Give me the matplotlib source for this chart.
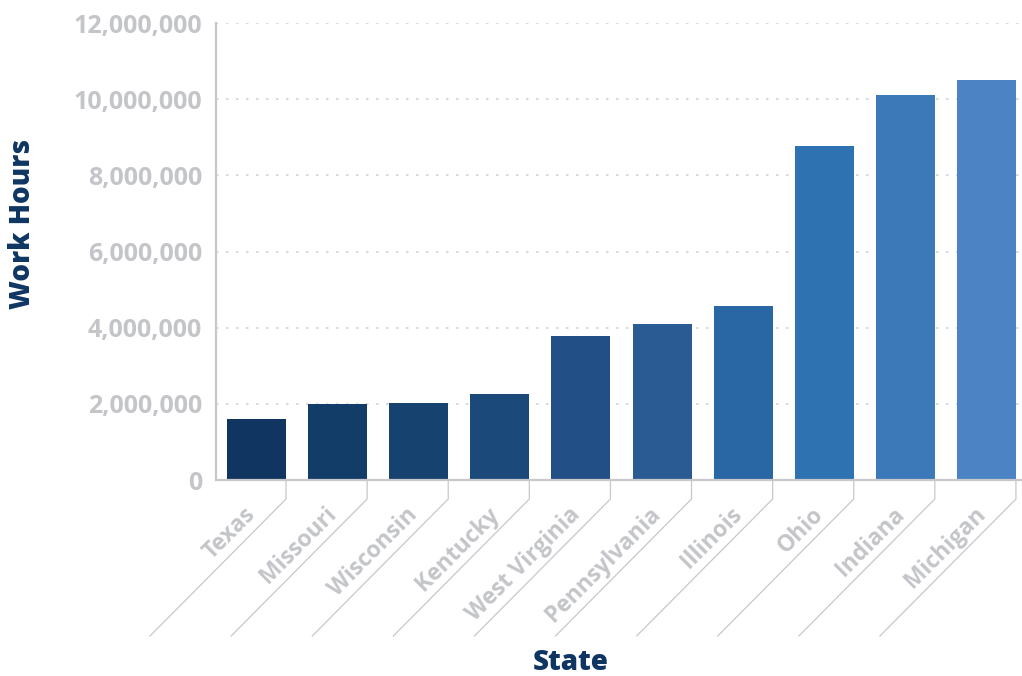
import matplotlib
matplotlib.use("Agg")
import matplotlib.pyplot as plt
import matplotlib.transforms as mtransforms
from matplotlib.ticker import FuncFormatter, MultipleLocator

states = ["Texas", "Missouri", "Wisconsin", "Kentucky", "West Virginia",
          "Pennsylvania", "Illinois", "Ohio", "Indiana", "Michigan"]
work_hours = [1600000, 2000000, 2020000, 2260000, 3780000,
              4090000, 4570000, 8770000, 10100000, 10500000]
bar_colors = ["#0f3560", "#133d69", "#16426f", "#1b4a7a", "#214f86",
              "#2a5c93", "#2866a4", "#2e72b1", "#3b79b8", "#4b83c4"]

W, H = 1022, 676
plt.rcParams['font.family'] = ['Open Sans', 'DejaVu Sans']
fig = plt.figure(figsize=(W / 100, H / 100), dpi=100)

# axes box in pixels: left 216, bottom 480, top 23, 10 slots of 81.1 px
ax = fig.add_axes([216 / W, (H - 480) / H, 811 / W, 457 / H])
x = range(len(states))
bar_w = 0.727
ax.bar(x, work_hours, width=bar_w, color=bar_colors, zorder=3)

ax.set_xlim(-0.5, len(states) - 0.5)
ax.set_ylim(0, 12000000)
ax.yaxis.set_major_locator(MultipleLocator(2000000))
ax.yaxis.set_major_formatter(FuncFormatter(lambda v, p: f"{int(v):,}"))

grey = "#c4c5c9"
ax.tick_params(axis='y', length=0, pad=10, labelsize=18, labelcolor=grey)
for lab in ax.get_yticklabels():
    lab.set_fontweight('bold')
ax.set_xticks([])
ax.grid(axis='y', color='#d2d2d2', linewidth=1.2, linestyle=(0, (1.5, 4.5)), zorder=0)

for side in ['top', 'right']:
    ax.spines[side].set_visible(False)
for side in ['left', 'bottom']:
    ax.spines[side].set_color('#c8c8cc')
    ax.spines[side].set_linewidth(1.6)
    ax.spines[side].set_zorder(4)

# slanted category ticks and labels
base = ax.get_xaxis_transform()
inv = fig.transFigure.inverted()
offsets = [(0, 0), (0, -19), (-136, -156)]  # pixels
for i, name in enumerate(states):
    xe = i + bar_w / 2
    fpts = []
    for px, py in offsets:
        t = base + mtransforms.ScaledTranslation(px / 100, py / 100, fig.dpi_scale_trans)
        fpts.append(inv.transform(t.transform((xe, 0))))
    fig.add_artist(plt.Line2D([p[0] for p in fpts], [p[1] for p in fpts],
                              color='#c8c8cc', linewidth=0.9))
    ttrans = base + mtransforms.ScaledTranslation(-34 / 100, -31 / 100, fig.dpi_scale_trans)
    ax.text(xe, 0, name, transform=ttrans, rotation=45, rotation_mode='anchor',
            ha='right', va='center', fontsize=16.5, fontweight='bold', color=grey)

fig.text(23 / W, 1 - 224 / H, "Work Hours", rotation=90, ha='center', va='center',
         fontsize=20, fontweight='heavy', color='#0f3562')
fig.text(571 / W, 1 - 662 / H, "State", ha='center', va='center',
         fontsize=20, fontweight='heavy', color='#0f3562')

fig.savefig("out.png", dpi=100)
